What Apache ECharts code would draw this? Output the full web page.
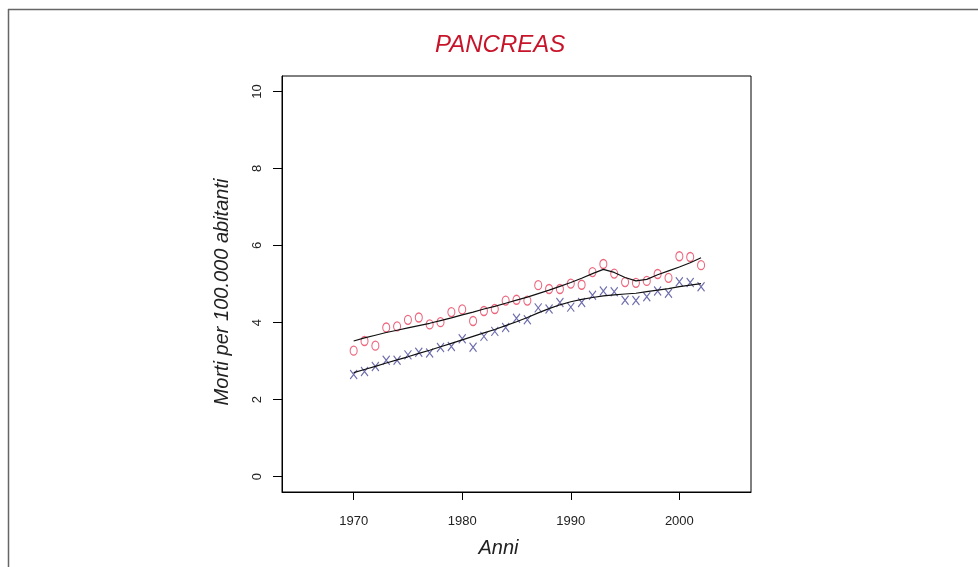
<!DOCTYPE html>
<html>
<head>
<meta charset="utf-8">
<script src="https://cdn.jsdelivr.net/npm/echarts@6/dist/echarts.min.js"></script>
<style>
html,body{margin:0;padding:0;background:#fff;}
#chart{width:978px;height:567px;}
</style>
</head>
<body>
<div id="chart"></div>
<script>
const years = [1970,1971,1972,1973,1974,1975,1976,1977,1978,1979,1980,1981,1982,1983,1984,1985,1986,1987,1988,1989,1990,1991,1992,1993,1994,1995,1996,1997,1998,1999,2000,2001,2002];
const circlesObs = [3.27,3.52,3.40,3.87,3.90,4.07,4.13,3.95,4.01,4.27,4.34,4.04,4.30,4.35,4.57,4.59,4.57,4.97,4.87,4.87,5.01,4.98,5.31,5.52,5.27,5.05,5.03,5.08,5.26,5.16,5.72,5.70,5.49];
const crossesObs = [2.65,2.73,2.86,3.02,3.02,3.16,3.23,3.21,3.35,3.38,3.58,3.36,3.64,3.77,3.87,4.11,4.07,4.38,4.35,4.52,4.40,4.52,4.71,4.82,4.80,4.58,4.57,4.67,4.82,4.76,5.06,5.04,4.93];
const circlesSmooth = [3.52,3.60,3.67,3.74,3.80,3.86,3.92,3.98,4.05,4.12,4.20,4.27,4.35,4.42,4.50,4.58,4.66,4.75,4.84,4.94,5.04,5.15,5.27,5.38,5.30,5.17,5.08,5.12,5.24,5.34,5.44,5.55,5.68];
const crossesSmooth = [2.70,2.78,2.86,2.95,3.03,3.11,3.20,3.28,3.37,3.46,3.55,3.64,3.73,3.82,3.92,4.02,4.13,4.25,4.36,4.46,4.54,4.60,4.65,4.69,4.72,4.74,4.76,4.80,4.84,4.88,4.93,4.97,5.01];
const xTicks = [1970,1980,1990,2000];
const yTicks = [0,2,4,6,8,10];
const titleText = 'PANCREAS';
const xTitle = 'Anni';
const yTitle = 'Morti per 100.000 abitanti';

const pair = (xs, ys) => xs.map((x, i) => [x, ys[i]]);

const chart = echarts.init(document.getElementById('chart'), null, {renderer: 'canvas'});
const labelFont = {fontFamily: 'Liberation Sans, Arial, sans-serif', fontSize: 13, color: '#222'};
const titleFont = 'Liberation Sans Narrow, Liberation Sans, sans-serif';
chart.setOption({
  animation: false,
  backgroundColor: '#fff',
  title: {
    text: titleText,
    left: 430,
    top: 28,
    textStyle: {fontFamily: titleFont, fontStyle: 'italic', fontWeight: 'normal', fontSize: 24, color: '#c8142a'}
  },
  graphic: [
    {type: 'line', shape: {x1: 8, y1: 9.5, x2: 978, y2: 9.5}, style: {stroke: '#666', lineWidth: 1.5}},
    {type: 'line', shape: {x1: 8.5, y1: 9, x2: 8.5, y2: 567}, style: {stroke: '#666', lineWidth: 1.5}}
  ],
  grid: {left: 282, top: 76, width: 469, height: 416, show: true, borderColor: '#000', borderWidth: 1, containLabel: false},
  xAxis: {
    type: 'value', min: 1963.4, max: 2006.6,
    name: xTitle, nameLocation: 'middle', nameGap: 46,
    nameTextStyle: {fontFamily: titleFont, fontStyle: 'italic', fontSize: 20, color: '#222', padding: [0, 36, 0, 0]},
    axisLine: {show: true, onZero: false, lineStyle: {color: '#000', width: 1}},
    axisTick: {show: true, length: 8, lineStyle: {color: '#000'}, customValues: xTicks},
    axisLabel: Object.assign({margin: 23, customValues: xTicks, formatter: v => String(v)}, labelFont),
    splitLine: {show: false}
  },
  yAxis: {
    type: 'value', min: -0.4, max: 10.4,
    name: yTitle, nameLocation: 'middle', nameGap: 50,
    nameTextStyle: {fontFamily: titleFont, fontStyle: 'italic', fontSize: 20, color: '#222', padding: [0, 16, 0, 0]},
    axisLine: {show: true, onZero: false, lineStyle: {color: '#000', width: 1}},
    axisTick: {show: true, length: 9, lineStyle: {color: '#000'}, customValues: yTicks},
    axisLabel: Object.assign({margin: 18, rotate: 90, customValues: yTicks, formatter: v => String(v)}, labelFont),
    splitLine: {show: false}
  },
  series: [
    {
      type: 'scatter', data: pair(years, circlesObs),
      symbol: 'path://M0,-5A3.5,5 0 1,0 0.001,-5Z', symbolSize: [7, 9], symbolKeepAspect: false,
      itemStyle: {color: 'rgba(0,0,0,0)', borderColor: '#e8405c', borderWidth: 1.2}
    },
    {
      type: 'scatter', data: pair(years, crossesObs),
      symbol: 'path://M0,0L7,9M7,0L0,9', symbolSize: [7, 9], symbolKeepAspect: false,
      itemStyle: {color: 'rgba(0,0,0,0)', borderColor: '#4a4898', borderWidth: 1.2}
    },
    {
      type: 'line', data: pair(years, circlesSmooth), symbol: 'none', smooth: false,
      lineStyle: {color: '#111', width: 1.2}
    },
    {
      type: 'line', data: pair(years, crossesSmooth), symbol: 'none', smooth: false,
      lineStyle: {color: '#111', width: 1.2}
    }
  ]
});
</script>
</body>
</html>
